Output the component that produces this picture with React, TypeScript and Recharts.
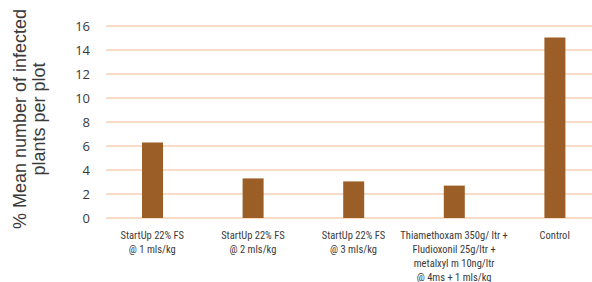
import React from "react";
import { BarChart, Bar, XAxis, YAxis, CartesianGrid } from "recharts";

const categories = [
  "StartUp 22% FS\n@ 1 mls/kg",
  "StartUp 22% FS\n@ 2 mls/kg",
  "StartUp 22% FS\n@ 3 mls/kg",
  "Thiamethoxam 350g/ ltr +\nFludioxonil 25g/ltr +\nmetalxyl m 10ng/ltr\n@ 4ms + 1 mls/kg",
  "Control",
];
const values = [6.3, 3.3, 3.05, 2.7, 15.05];
const yTicks = [0, 2, 4, 6, 8, 10, 12, 14, 16];
const yLabelLines = ["% Mean number of infected", "plants per plot"];

const data = categories.map((c, i) => ({ name: c, value: values[i] }));

const XTick = (props: any) => {
  const { x, y, payload } = props;
  const lines = String(payload.value).split("\n");
  return (
    <text
      x={x}
      y={y}
      textAnchor="middle"
      fill="#3a3a3a"
      fontSize={10.5}
      fontFamily="'Liberation Sans Narrow', 'Arial Narrow', 'Roboto Condensed', Roboto, sans-serif"
    >
      {lines.map((l, i) => (
        <tspan key={i} x={x} dy={i === 0 ? 13 : 14}>
          {l}
        </tspan>
      ))}
    </text>
  );
};

const YLabel = () => (
  <text
    transform="translate(0,119) rotate(-90)"
    textAnchor="middle"
    fill="#3a3a3a"
    fontSize={18}
    fontFamily="'Liberation Sans', Arial, sans-serif"
  >
    <tspan x={0} y={26}>{yLabelLines[0]}</tspan>
    <tspan x={0} y={45}>{yLabelLines[1]}</tspan>
  </text>
);

export default function App() {
  return (
    <div
      style={{
        position: "absolute",
        left: 0,
        top: 0,
        width: 592,
        height: 282,
        overflow: "hidden",
        background: "#fff",
      }}
    >
      <BarChart
        width={610}
        height={282}
        data={data}
        margin={{ top: 26, right: 5, bottom: 0, left: 0 }}
      >
        <CartesianGrid
          vertical={false}
          stroke="#F8DCC8"
          strokeWidth={2}
        />
        <XAxis
          dataKey="name"
          axisLine={false}
          tickLine={false}
          interval={0}
          height={64}
          padding={{ left: -4, right: 0 }}
          tick={<XTick />}
        />
        <YAxis
          width={106}
          domain={[0, 16]}
          ticks={yTicks}
          axisLine={false}
          tickLine={false}
          tickSize={0}
          tickMargin={16}
          tick={{
            fill: "#3a3a3a",
            fontSize: 13,
            fontFamily: "'Open Sans', sans-serif",
          }}
          label={<YLabel />}
        />
        <Bar
          dataKey="value"
          fill="#9B5E26"
          barSize={21}
          isAnimationActive={false}
        />
      </BarChart>
    </div>
  );
}
